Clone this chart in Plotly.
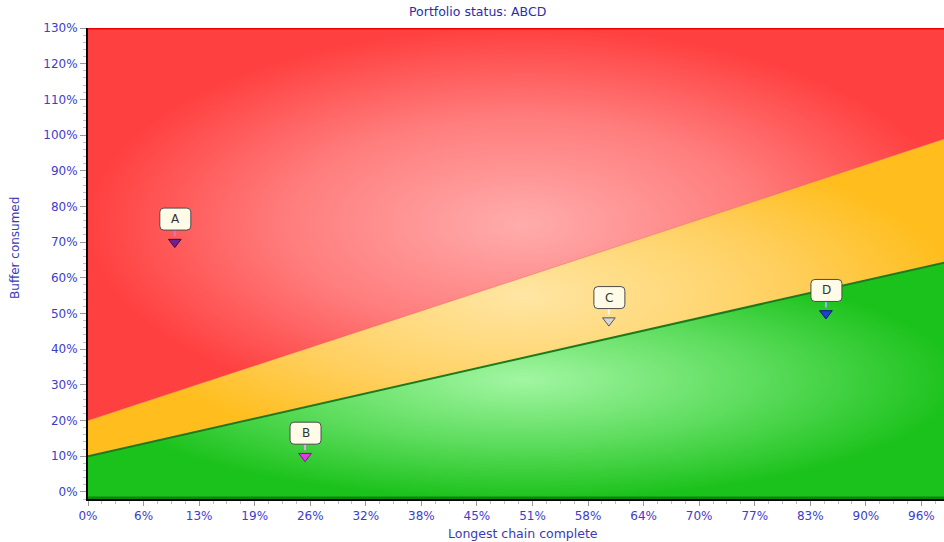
import plotly.graph_objects as go

# ---- data ----
x_ends = [0, 100]              # % of longest chain complete
green_limit = [10, 65]         # green / yellow boundary (% buffer consumed)
yellow_limit = [20, 100]       # yellow / red boundary
y_floor = -2
y_ceiling = 130

project_names = ["A", "B", "C", "D"]
project_x = [10, 25, 60, 85]
project_y = [70, 10, 48, 50]
project_colors = ["#74208c", "#e03ce0", "#d6d6d6", "#1f3fd0"]
project_edges = ["#3a0a4a", "#8a108a", "#555555", "#0a1a70"]
stem_colors = ["#e070c8", "#f0a0f0", "#f4f4f4", "#a0b0ff"]

x_tick_vals = [0, 6.4, 12.8, 19.2, 25.6, 32, 38.4, 44.8, 51.2, 57.6, 64, 70.4, 76.8, 83.2, 89.6, 96]
x_tick_text = ["0%", "6%", "13%", "19%", "26%", "32%", "38%", "45%", "51%", "58%",
               "64%", "70%", "77%", "83%", "90%", "96%"]
y_tick_vals = [0, 10, 20, 30, 40, 50, 60, 70, 80, 90, 100, 110, 120, 130]
y_tick_text = ["0%", "10%", "20%", "30%", "40%", "50%", "60%", "70%", "80%", "90%",
               "100%", "110%", "120%", "130%"]

FONT = "DejaVu Sans"
BLUE = "#3d3dcc"

fig = go.Figure()

x0, x1 = x_ends
# green zone
fig.add_trace(go.Scatter(
    x=[x0, x1, x1, x0, x0], y=[y_floor, y_floor, green_limit[1], green_limit[0], y_floor],
    fill="toself", mode="none", hoverinfo="skip", showlegend=False,
    fillgradient=dict(type="radial", colorscale=[[0, "#a2f6a2"], [0.55, "#5cdc5c"], [1, "#1cc21c"]]),
))
# yellow zone
fig.add_trace(go.Scatter(
    x=[x0, x1, x1, x0, x0], y=[green_limit[0], green_limit[1], yellow_limit[1], yellow_limit[0], green_limit[0]],
    fill="toself", mode="none", hoverinfo="skip", showlegend=False,
    fillgradient=dict(type="radial", colorscale=[[0, "#ffe6a4"], [0.6, "#ffd060"], [1, "#ffbe1e"]]),
))
# red zone
fig.add_trace(go.Scatter(
    x=[x0, x1, x1, x0, x0], y=[yellow_limit[0], yellow_limit[1], y_ceiling, y_ceiling, yellow_limit[0]],
    fill="toself", mode="none", hoverinfo="skip", showlegend=False,
    fillgradient=dict(type="radial", colorscale=[[0, "#ffacac"], [0.55, "#ff7c7c"], [1, "#ff4040"]]),
))
# boundary lines
fig.add_trace(go.Scatter(x=x_ends, y=green_limit, mode="lines",
                         line=dict(color="#1c7a1c", width=2), hoverinfo="skip", showlegend=False))
fig.add_trace(go.Scatter(x=x_ends, y=yellow_limit, mode="lines",
                         line=dict(color="#f04a20", width=1), opacity=0.35, hoverinfo="skip", showlegend=False))
fig.add_trace(go.Scatter(x=x_ends, y=[y_ceiling, y_ceiling], mode="lines",
                         line=dict(color="#ee0000", width=3), hoverinfo="skip", showlegend=False))
fig.add_trace(go.Scatter(x=x_ends, y=[y_floor, y_floor], mode="lines",
                         line=dict(color="#0a8a0a", width=5), hoverinfo="skip", showlegend=False))

# project markers
fig.add_trace(go.Scatter(
    x=project_x, y=project_y, mode="markers", showlegend=False,
    text=project_names,
    marker=dict(symbol="triangle-down", size=11, color=project_colors,
                line=dict(color=project_edges, width=1)),
))

r = 4
bx0, bx1, by0, by1 = -15, 16, 12, 34
box_path = (f"M {bx0 + r},{by0} L {bx1 - r},{by0} Q {bx1},{by0} {bx1},{by0 + r} "
            f"L {bx1},{by1 - r} Q {bx1},{by1} {bx1 - r},{by1} "
            f"L {bx0 + r},{by1} Q {bx0},{by1} {bx0},{by1 - r} "
            f"L {bx0},{by0 + r} Q {bx0},{by0} {bx0 + r},{by0} Z")

for name, px, py, sc in zip(project_names, project_x, project_y, stem_colors):
    fig.add_shape(type="path", xref="x", yref="y", xsizemode="pixel", ysizemode="pixel",
                  xanchor=px, yanchor=py, path="M 0,6 L 0,12",
                  line=dict(color=sc, width=2), layer="above")
    fig.add_shape(type="path", xref="x", yref="y", xsizemode="pixel", ysizemode="pixel",
                  xanchor=px, yanchor=py, path=box_path,
                  fillcolor="#fffbe6", line=dict(color="#4a4a4a", width=1), layer="above")
    fig.add_annotation(x=px, y=py, xref="x", yref="y", text=name, showarrow=False,
                       yshift=23, xshift=0.5, font=dict(family=FONT, size=12, color="#333333"))

# axis titles
fig.add_annotation(text="Longest chain complete", xref="paper", yref="paper", x=0.5, y=0,
                   xshift=7, yshift=-34, showarrow=False, yanchor="middle",
                   font=dict(family=FONT, size=12.5, color="#3a3ab8"))
fig.add_annotation(text="Buffer consumed", xref="paper", yref="paper", x=0, y=0.533,
                   xshift=-73, showarrow=False, textangle=-90, xanchor="center",
                   font=dict(family=FONT, size=12, color="#3a3ab8"))

fig.update_layout(
    width=944, height=542,
    margin=dict(l=88, r=0, t=28, b=43),
    paper_bgcolor="white", plot_bgcolor="white",
    title=dict(text="Portfolio status: ABCD", x=0.506, xanchor="center",
               y=1 - 12 / 542, yref="container", yanchor="middle",
               font=dict(family=FONT, size=12.5, color="#2c2cb0")),
    xaxis=dict(range=[0, 98.6], tickmode="array", tickvals=x_tick_vals, ticktext=x_tick_text,
               ticks="outside", ticklen=5, tickcolor="#999999", tickwidth=1,
               tickfont=dict(family=FONT, size=12, color=BLUE),
               showgrid=False, zeroline=False, showline=True, linecolor="black", linewidth=2,
               minor=dict(tickmode="linear", tick0=0, dtick=1.6, ticks="outside", ticklen=3,
                          tickcolor="#c0c0c0", showgrid=False),
               fixedrange=True),
    yaxis=dict(range=[y_floor, y_ceiling], tickmode="array", tickvals=y_tick_vals, ticktext=y_tick_text,
               ticks="outside", ticklen=6, tickcolor="#999999", tickwidth=1,
               tickfont=dict(family=FONT, size=12, color=BLUE),
               showgrid=False, zeroline=False, showline=True, linecolor="black", linewidth=2,
               minor=dict(tickmode="linear", tick0=0, dtick=2, ticks="outside", ticklen=3,
                          tickcolor="#c0c0c0", showgrid=False),
               fixedrange=True),
)

fig.write_html("out.html")
